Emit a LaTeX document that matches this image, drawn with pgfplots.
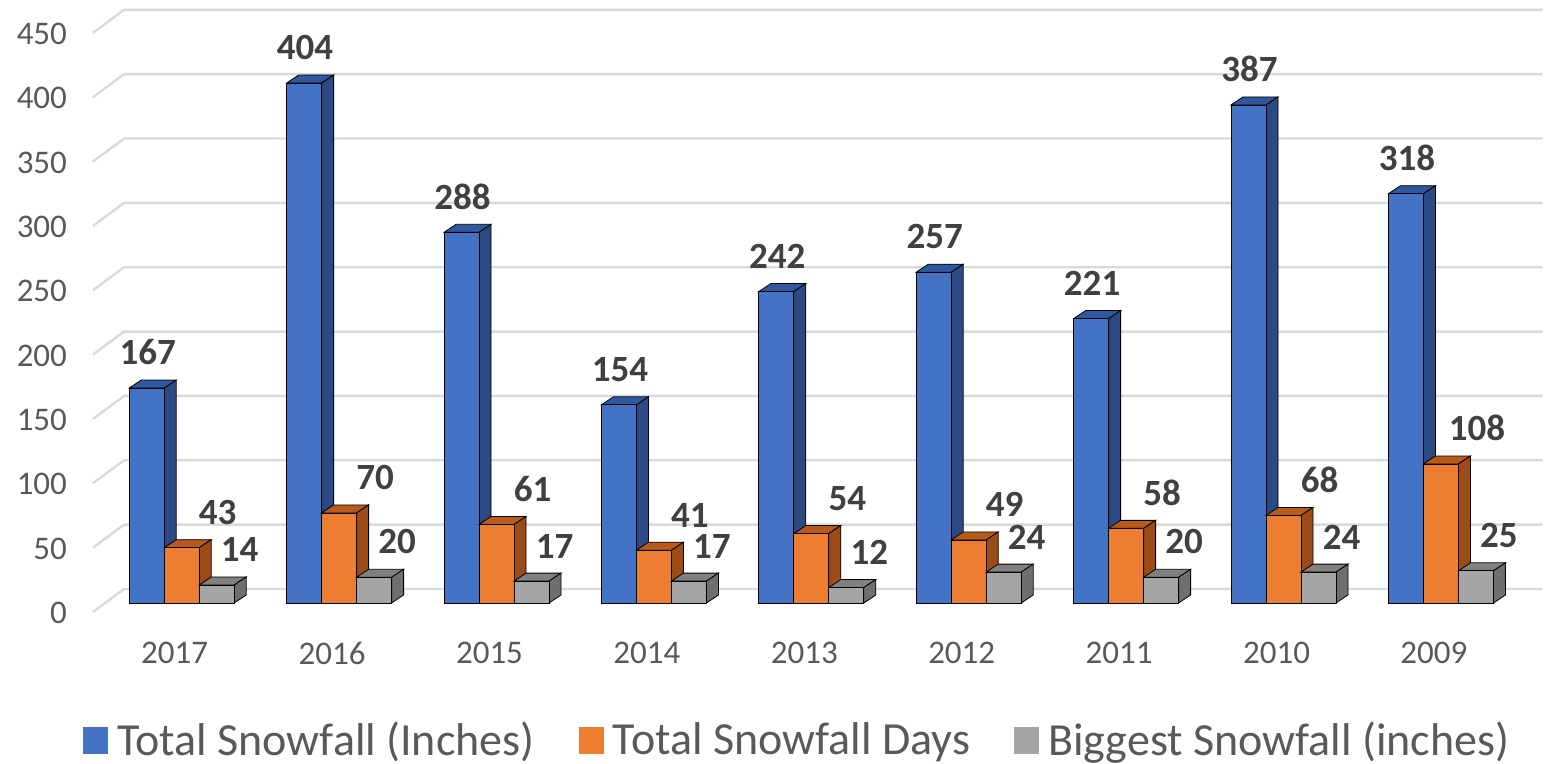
\documentclass[border=0pt]{standalone}
\usepackage{pgfplots}
\pgfplotsset{compat=1.18}
\usepackage{fontspec}
\setmainfont{Carlito}
\definecolor{cblue}{HTML}{4472C4}
\definecolor{cblueside}{HTML}{2B4A83}
\definecolor{cbluetop}{HTML}{30589F}
\definecolor{corange}{HTML}{ED7D31}
\definecolor{corangeside}{HTML}{9C4C17}
\definecolor{corangetop}{HTML}{B85A1B}
\definecolor{cgray}{HTML}{A5A5A5}
\definecolor{cgrayside}{HTML}{6F6F6F}
\definecolor{cgraytop}{HTML}{808080}
\definecolor{gridc}{HTML}{D9D9D9}
\definecolor{tickc}{HTML}{595959}
\definecolor{labc}{HTML}{404040}
\pgfplotsset{
  cubefaces/.style n args={4}{%
    forget plot, only marks, mark=*, mark size=0pt,
    mark options={draw=none,fill=none},
    scatter,
    visualization depends on={rawy \as \rawy},
    scatter/@pre marker code/.code={%
      \pgfmathsetmacro\hh{\rawy*0.6435}%
      \path[fill=#3] (#1-8.75pt,0pt) -- (#1+8.75pt,0pt) -- (#1+14.75pt,4pt) -- (#1-2.75pt,4pt) -- cycle;
      \path[fill=#2] (#1+8.75pt,0pt) -- (#1+14.75pt,4pt) -- (#1+14.75pt,4pt-\hh pt) -- (#1+8.75pt,-\hh pt) -- cycle;
      \path[fill=#4] (#1-8.75pt,0pt) rectangle (#1+8.75pt,-\hh pt);
    },
    scatter/@post marker code/.code={},
  },
  frontbar/.style n args={3}{%
    ybar, bar width=17.5pt, bar shift=#1, fill=#2, draw=none,
    nodes near coords,
    every node near coord/.append style={font=\bfseries\fontsize{18.5}{22}\selectfont, text=labc, anchor=south, xshift=#3, yshift=8pt},
  },
}
\begin{document}
\begin{tikzpicture}
\begin{axis}[
  x=78.7pt, y=0.6435pt,
  xmin=-0.5, xmax=8.5, ymin=0, ymax=450,
  enlargelimits=false, clip=false,
  axis line style={draw=none},
  major tick length=0pt,
  every tick/.style={draw=none},
  xtick={0,1,2,3,4,5,6,7,8},
  xticklabels={2017,2016,2015,2014,2013,2012,2011,2010,2009},
  ytick={0,50,100,150,200,250,300,350,400,450},
  tick label style={font=\fontsize{16.5}{20}\selectfont, text=tickc},
  xticklabel style={yshift=-16pt, xshift=-3.5pt},
  yticklabel style={xshift=-14.5pt, yshift=-5pt},
  /pgf/number format/assume math mode=true,
  legend columns=3,
  legend style={at={(0.5,0)}, anchor=center, xshift=-6.5pt, yshift=-68.5pt, draw=none, fill=none,
    inner ysep=0pt, nodes={inner ysep=1pt},
    font=\fontsize{23}{28}\selectfont, text=tickc,
    /tikz/every even column/.append style={column sep=20pt}},
  legend image code/.code={\path[#1, draw=none] (0pt,-6.75pt) rectangle (12.5pt,6.75pt); \path (15pt,0pt);},
]
\pgfplotsinvokeforeach{0,50,100,150,200,250,300,350,400,450}{
  \draw[gridc, line width=1.2pt] ([xshift=-5pt,yshift=-4.5pt]axis cs:-0.5,#1) -- ([xshift=10.5pt,yshift=7pt]axis cs:-0.5,#1) -- ([xshift=11.5pt,yshift=7pt]axis cs:8.5,#1);
}
% Total Snowfall (Inches)
\addplot[frontbar={-17.5pt}{cblue}{-17pt}] coordinates {(0,167) (1,404) (2,288) (3,154) (4,242) (5,257) (6,221) (7,387) (8,318)};
\addlegendentry{Total Snowfall (Inches)}
\addplot[cubefaces={-17.5pt}{cblueside}{cbluetop}{cblue}] coordinates {(0,167) (1,404) (2,288) (3,154) (4,242) (5,257) (6,221) (7,387) (8,318)};
% Total Snowfall Days
\addplot[frontbar={0pt}{corange}{18pt}] coordinates {(0,43) (1,70) (2,61) (3,41) (4,54) (5,49) (6,58) (7,68) (8,108)};
\addlegendentry{Total Snowfall Days}
\addplot[cubefaces={0pt}{corangeside}{corangetop}{corange}] coordinates {(0,43) (1,70) (2,61) (3,41) (4,54) (5,49) (6,58) (7,68) (8,108)};
% Biggest Snowfall (inches)
\addplot[frontbar={17.5pt}{cgray}{29pt}] coordinates {(0,14) (1,20) (2,17) (3,17) (4,12) (5,24) (6,20) (7,24) (8,25)};
\addlegendentry{Biggest Snowfall (inches)}
\addplot[cubefaces={17.5pt}{cgrayside}{cgraytop}{cgray}] coordinates {(0,14) (1,20) (2,17) (3,17) (4,12) (5,24) (6,20) (7,24) (8,25)};
\end{axis}
\pgfresetboundingbox
\path[use as bounding box] (-51.5pt,-80.5pt) rectangle (721.5pt,301.5pt);
\end{tikzpicture}
\end{document}
